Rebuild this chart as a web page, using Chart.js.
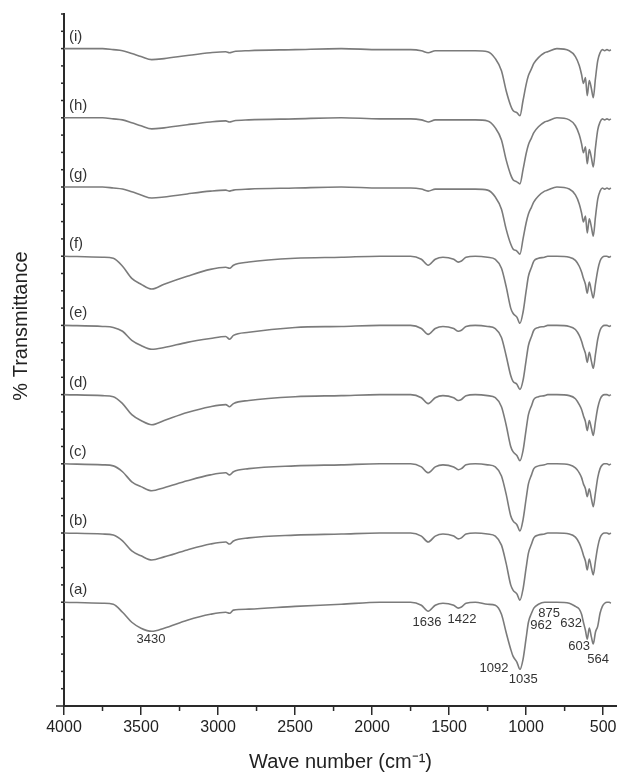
<!DOCTYPE html>
<html><head><meta charset="utf-8">
<script src="https://cdn.jsdelivr.net/npm/chart.js@4.4.1/dist/chart.umd.min.js"></script>
<style>html,body{margin:0;padding:0;background:#fff}canvas{display:block}</style>
</head><body>
<canvas id="c" width="617" height="774" style="width:617px;height:774px"></canvas>
<script>
// ---- data ----
const wavenumbers = [4000,3750,3680,3620,3560,3500,3430,3350,3200,3050,
  2950,2925,2900,2800,2500,2200,1950,1750,1680,1636,
  1590,1540,1470,1440,1420,1390,1330,1250,1200,1160,
  1130,1100,1085,1060,1040,1020,1000,985,965,950,
  920,880,860,800,720,680,655,640,628,615,
  603,590,576,564,550,535,520,505,490,475,
  460,450];

const seriesNames = ['(a)','(b)','(c)','(d)','(e)','(f)','(g)','(h)','(i)'];
const seriesOffsets = [30,50,70,90,110,130,150,170,190];

const specA = [0,-0.3,-0.6,-2.9,-5.8,-7.5,-8.4,-7.5,-5.2,-3.5,
  -2.9,-3.2,-2.3,-2.0,-1.2,-0.6,0,0,-0.9,-2.6,
  -0.9,-0.3,-0.9,-1.7,-1.4,-0.3,0,-0.6,-0.9,-3.5,
  -8.7,-13.6,-15.6,-17.3,-19.4,-16.5,-10.4,-5.8,-3.2,-1.7,
  -0.6,0,0,0,-0.3,-1.2,-2.0,-3.5,-5.8,-8.1,
  -10.7,-7.5,-10.1,-12.1,-8.7,-6.9,-3.2,-1.2,-0.3,0,
  0,-0.3];
const specB = [0,-0.3,-0.6,-2.3,-5.2,-6.6,-7.8,-6.9,-4.9,-3.2,
  -2.6,-3.2,-2.3,-1.4,-0.6,-0.3,0,0,-0.9,-2.6,
  -0.9,-0.3,-0.9,-1.7,-1.4,-0.3,0,-0.3,-0.9,-3.5,
  -8.7,-15.0,-16.5,-17.6,-19.4,-16.2,-10.1,-5.8,-3.2,-1.4,
  -0.6,-0.3,0,0,-0.3,-1.2,-2.9,-4.6,-6.4,-8.1,
  -10.7,-7.5,-10.1,-12.1,-8.1,-4.0,-1.4,-0.3,0,0,
  -0.3,0];
const specC = [0,-0.3,-0.6,-2.3,-5.2,-6.6,-7.8,-6.9,-4.9,-3.2,
  -2.6,-3.2,-2.3,-1.4,-0.6,-0.3,0,0,-0.9,-2.6,
  -0.9,-0.3,-0.9,-1.7,-1.4,-0.3,0,-0.3,-0.9,-3.5,
  -8.7,-15.0,-16.5,-17.6,-19.4,-16.2,-10.1,-5.8,-3.2,-1.4,
  -0.6,-0.3,0,0,-0.3,-1.2,-2.6,-4.0,-5.8,-7.2,
  -9.5,-7.2,-10.1,-12.4,-8.4,-4.0,-1.4,-0.3,0,0,
  -0.3,0];
const specD = [0,-0.3,-0.6,-2.6,-5.8,-7.5,-8.7,-7.5,-5.2,-3.5,
  -2.9,-3.5,-2.6,-1.7,-0.6,-0.3,0,0,-0.9,-2.6,
  -0.9,-0.3,-0.9,-1.7,-1.4,-0.3,0,-0.3,-0.9,-3.5,
  -8.7,-15.0,-16.5,-17.6,-19.1,-16.2,-10.1,-5.8,-3.2,-1.4,
  -0.6,-0.3,0,0,-0.3,-1.2,-2.9,-4.3,-6.1,-7.8,
  -10.4,-7.5,-9.8,-11.8,-7.8,-3.8,-1.4,-0.3,0,0,
  -0.3,0];
const specE = [0,-0.3,-0.6,-1.7,-4.3,-5.8,-6.9,-6.4,-4.9,-3.8,
  -3.2,-4.0,-2.9,-2.0,-0.6,-0.3,0,0,-0.9,-2.6,
  -0.9,-0.3,-0.9,-1.7,-1.4,-0.3,0,-0.3,-0.9,-3.5,
  -8.7,-14.5,-16.2,-17.0,-18.5,-15.9,-10.1,-5.8,-3.2,-1.4,
  -0.6,-0.3,0,0,-0.3,-1.2,-2.9,-4.6,-6.4,-8.1,
  -10.7,-7.8,-10.4,-12.4,-8.4,-4.0,-1.4,-0.3,0,0,
  -0.3,0];
const specF = [0,-0.3,-0.6,-2.9,-6.4,-8.1,-9.5,-8.1,-5.8,-3.8,
  -3.2,-3.5,-2.6,-1.7,-0.6,-0.3,0,0,-0.9,-2.6,
  -0.9,-0.3,-0.9,-1.7,-1.4,-0.3,0,-0.3,-0.9,-3.5,
  -8.7,-15.0,-16.5,-17.6,-19.4,-16.2,-10.1,-5.8,-3.2,-1.4,
  -0.6,-0.3,0,0,-0.3,-1.2,-2.9,-4.6,-6.4,-8.1,
  -10.7,-7.5,-10.1,-12.1,-8.1,-4.0,-1.4,-0.3,0,0,
  -0.3,0];
const specG = [0,0,-0.3,-0.6,-1.4,-2.3,-3.2,-2.9,-2.0,-1.2,
  -0.9,-1.2,-0.9,-0.6,-0.3,0,-0.3,-0.3,-0.6,-1.2,
  -0.6,-0.6,-0.6,-0.6,-0.6,-0.6,-0.6,-0.9,-2.9,-6.4,
  -12.1,-16.5,-17.9,-18.5,-19.4,-15.0,-10.4,-7.8,-5.8,-4.3,
  -2.6,-1.2,-0.9,0,-0.6,-2.3,-4.9,-7.5,-10.1,-8.4,
  -13.3,-9.2,-11.6,-14.2,-8.7,-3.5,-1.2,-0.3,-0.6,-0.3,
  -0.6,-0.3];
const specH = [0,0,-0.3,-0.6,-1.4,-2.3,-3.2,-2.9,-2.0,-1.2,
  -0.9,-1.2,-0.9,-0.6,-0.3,0,-0.3,-0.3,-0.6,-1.2,
  -0.6,-0.6,-0.6,-0.6,-0.6,-0.6,-0.6,-0.9,-2.9,-6.4,
  -12.1,-16.5,-17.9,-18.5,-19.1,-15.0,-10.4,-7.8,-5.8,-4.3,
  -2.6,-1.2,-0.9,0,-0.6,-2.3,-4.9,-7.5,-10.1,-8.4,
  -13.3,-9.2,-11.6,-14.2,-8.7,-3.5,-1.2,-0.3,-0.6,-0.3,
  -0.6,-0.3];
const specI = [0,0,-0.3,-0.6,-1.4,-2.3,-3.2,-2.9,-2.0,-1.2,
  -0.9,-1.2,-0.9,-0.6,-0.3,0,-0.3,-0.3,-0.6,-1.2,
  -0.6,-0.6,-0.6,-0.6,-0.6,-0.6,-0.6,-0.9,-2.9,-6.4,
  -12.1,-16.5,-17.9,-18.5,-19.4,-15.0,-10.4,-7.8,-5.8,-4.3,
  -2.6,-1.2,-0.9,0,-0.6,-2.3,-4.9,-7.5,-10.1,-8.4,
  -13.6,-9.2,-11.6,-14.2,-8.7,-3.5,-1.2,-0.3,-0.6,-0.3,
  -0.6,-0.3];
const spectra = [specA,specB,specC,specD,specE,specF,specG,specH,specI];

const xTickValues = [4000,3500,3000,2500,2000,1500,1000,500];
const xMinorTickValues = [3750,3250,2750,2250,1750,1250,750];

const peakLabels = ['3430','1636','1422','1092','1035','962','875','632','603','564'];
const peakLabelX = [3435,1643,1416,1208,1019,903,851,708,656,532];
const peakLabelY = [19.1,24.3,24.9,11.0,7.8,23.4,26.9,24.0,17.1,13.6];

// ---- chart ----
const AXIS = '#2a2a2a';
const LINE = '#7b7b7b';
const FONT = '"Liberation Sans", Arial, Helvetica, sans-serif';

const datasets = spectra.map((vals, i) => ({
  label: seriesNames[i],
  data: vals.map((v, j) => ({x: wavenumbers[j], y: seriesOffsets[i] + v})),
  borderColor: LINE,
  borderWidth: 1.6,
  pointRadius: 0,
  fill: false,
  cubicInterpolationMode: 'monotone'
}));

const decorations = {
  id: 'decorations',
  afterDraw(chart) {
    const {ctx, chartArea, scales: {x, y}} = chart;
    ctx.save();
    ctx.strokeStyle = AXIS;
    ctx.lineWidth = 1.5;
    xMinorTickValues.forEach(v => {
      const px = x.getPixelForValue(v);
      ctx.beginPath(); ctx.moveTo(px, chartArea.bottom); ctx.lineTo(px, chartArea.bottom + 5); ctx.stroke();
    });
    for (let v = 0; v <= 200; v += 5) {
      const py = y.getPixelForValue(v);
      const len = v === 0 ? 8 : 3;
      ctx.beginPath(); ctx.moveTo(chartArea.left - len, py); ctx.lineTo(chartArea.left, py); ctx.stroke();
    }
    // series labels
    ctx.fillStyle = '#333';
    ctx.font = '15px ' + FONT;
    ctx.textAlign = 'left';
    ctx.textBaseline = 'middle';
    seriesNames.forEach((n, i) => {
      ctx.fillText(n, x.getPixelForValue(3968), y.getPixelForValue(seriesOffsets[i] + 3.5));
    });
    // peak annotations
    ctx.font = '13px ' + FONT;
    ctx.textAlign = 'center';
    peakLabels.forEach((t, i) => {
      ctx.fillText(t, x.getPixelForValue(peakLabelX[i]), y.getPixelForValue(peakLabelY[i]));
    });
    // y title
    ctx.fillStyle = '#222';
    ctx.font = '20px ' + FONT;
    ctx.translate(21, 326);
    ctx.rotate(-Math.PI / 2);
    ctx.textAlign = 'center';
    ctx.fillText('% Transmittance', 0, 0);
    ctx.restore();
  }
};

new Chart(document.getElementById('c'), {
  type: 'line',
  data: {datasets},
  options: {
    responsive: false,
    animation: false,
    devicePixelRatio: 1,
    layout: {padding: {left: 64, top: 14, right: 0, bottom: 0}},
    plugins: {legend: {display: false}, tooltip: {enabled: false}},
    scales: {
      x: {
        type: 'linear',
        min: 410, max: 4000, reverse: true,
        afterBuildTicks: (s) => { s.ticks = xTickValues.map(v => ({value: v})); },
        afterFit: (s) => { s.height = 68; s.paddingLeft = 0; s.paddingRight = 0; },
        ticks: {color: '#222', font: {size: 16, family: FONT}, padding: 3, maxRotation: 0, autoSkip: false,
                callback: (v) => String(v)},
        grid: {display: true, drawOnChartArea: false, drawTicks: true, tickLength: 9, color: AXIS, lineWidth: 1.5},
        border: {display: true, color: AXIS, width: 2},
        title: {display: true, text: 'Wave number (cm\u207B\u00B9)', color: '#222',
                font: {size: 20, family: FONT}, padding: {top: 0, bottom: 0}}
      },
      y: {
        type: 'linear', min: 0, max: 200,
        afterFit: (s) => { s.width = 0; },
        ticks: {display: false},
        grid: {display: false},
        border: {display: true, color: AXIS, width: 2}
      }
    }
  },
  plugins: [decorations]
});
</script>
</body></html>
